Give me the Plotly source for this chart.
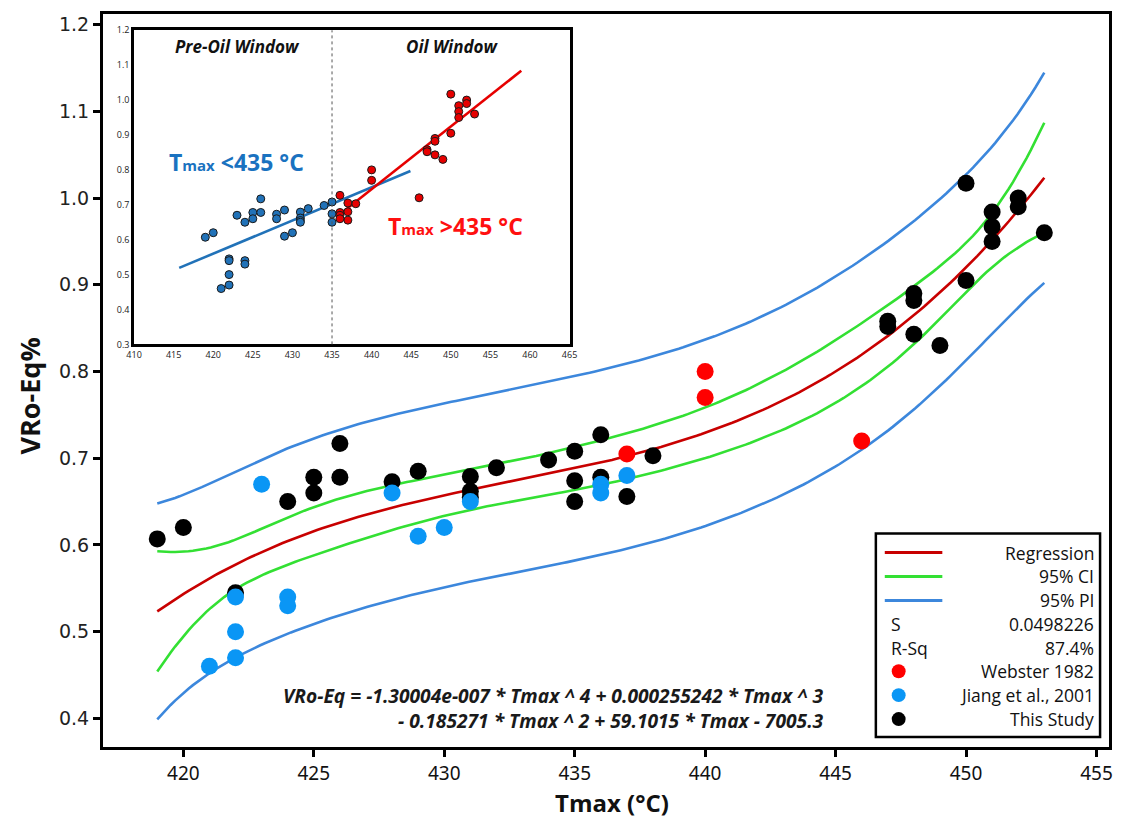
import numpy as np
import plotly.graph_objects as go

# ---------------- data ----------------
# This Study
study_tmax = [419, 420, 422, 424, 425, 425, 426, 426, 428, 429, 431, 431, 431, 432,
              434, 435, 435, 435, 436, 436, 437, 438, 447, 447, 448, 448, 448, 449,
              450, 450, 451, 451, 451, 452, 452, 453]
study_vro = [0.607, 0.620, 0.545, 0.650, 0.678, 0.660, 0.717, 0.678, 0.673, 0.685, 0.679, 0.662, 0.655, 0.689,
             0.698, 0.708, 0.674, 0.650, 0.727, 0.678, 0.656, 0.703, 0.858, 0.852, 0.890, 0.882, 0.843, 0.830,
             1.017, 0.905, 0.984, 0.967, 0.950, 1.000, 0.990, 0.960]

# Jiang et al., 2001
jiang_tmax = [421, 422, 422, 422, 423, 424, 424, 428, 429, 430, 431, 436, 436, 437]
jiang_vro = [0.460, 0.540, 0.500, 0.470, 0.670, 0.540, 0.530, 0.660, 0.610, 0.620, 0.650, 0.670, 0.660, 0.680]

# Webster 1982
webster_tmax = [437, 440, 440, 446]
webster_vro = [0.705, 0.800, 0.770, 0.720]

main_xticks = [420, 425, 430, 435, 440, 445, 450, 455]
main_yticks = [0.4, 0.5, 0.6, 0.7, 0.8, 0.9, 1.0, 1.1, 1.2]
inset_xticks = list(range(410, 466, 5))
inset_yticks = [0.3, 0.4, 0.5, 0.6, 0.7, 0.8, 0.9, 1.0, 1.1, 1.2]

stat_s = "0.0498226"
stat_rsq = "87.4%"
oil_window_tmax = 435

# ---------------- 4th-order regression with 95% CI / PI ----------------
tx = np.array(study_tmax + jiang_tmax + webster_tmax, dtype=float)
vy = np.array(study_vro + jiang_vro + webster_vro, dtype=float)
centre = 435.0
X = np.vander(tx - centre, 5)
beta, *_ = np.linalg.lstsq(X, vy, rcond=None)
n, p = X.shape
resid = vy - X @ beta
s_fit = np.sqrt(resid @ resid / (n - p))
xtx_inv = np.linalg.inv(X.T @ X)
t_crit = 2.0096  # Student t, 0.975 quantile, 49 d.f.

grid = np.linspace(tx.min(), tx.max(), 200)
G = np.vander(grid - centre, 5)
fit = G @ beta
se_mean = s_fit * np.sqrt(np.einsum("ij,jk,ik->i", G, xtx_inv, G))
ci = t_crit * se_mean
pi = t_crit * np.sqrt(s_fit ** 2 + se_mean ** 2)

# inset: split at the oil window threshold, linear trend for each part
pre_mask = tx <= oil_window_tmax
pre_coef = np.polyfit(tx[pre_mask], vy[pre_mask], 1)
oil_coef = np.polyfit(tx[~pre_mask], vy[~pre_mask], 1)
pre_line_x = np.array([415.7, 444.9])
oil_line_x = np.array([436.0, 458.9])

# ---------------- layout geometry (pixels -> paper) ----------------
W, H = 1124, 819
L, R, T, B = 103, 1117, 12, 747


def px(x):
    return (x - L) / (R - L)


def py(y):
    return (B - y) / (B - T)


def label(text, x, y, size, color="#111", xanchor="center", family="Open Sans", **kw):
    return dict(text=text, x=px(x), y=py(y), xref="paper", yref="paper", xanchor=xanchor,
                yanchor="middle", showarrow=False, borderpad=0,
                font=dict(family=family, size=size, color=color), **kw)


FONT = "Open Sans"
RED_LINE = "#c80000"
GREEN_LINE = "#33e033"
BLUE_LINE = "#3c87dc"
RED_PT = "#ff0000"
BLUE_PT = "#0a96f5"
INSET_BLUE = "#2172b8"
INSET_RED = "#e60000"

fig = go.Figure()

# confidence / prediction bands and the fitted curve
for yvals, color in [(fit + pi, BLUE_LINE), (fit - pi, BLUE_LINE),
                     (fit + ci, GREEN_LINE), (fit - ci, GREEN_LINE),
                     (fit, RED_LINE)]:
    fig.add_trace(go.Scatter(x=grid, y=yvals, mode="lines",
                             line=dict(color=color, width=2.6),
                             showlegend=False, hoverinfo="skip"))

# data points
fig.add_trace(go.Scatter(x=study_tmax, y=study_vro, mode="markers", name="This Study",
                         marker=dict(color="#000000", size=17), showlegend=False))
fig.add_trace(go.Scatter(x=jiang_tmax, y=jiang_vro, mode="markers", name="Jiang et al., 2001",
                         marker=dict(color=BLUE_PT, size=17), showlegend=False))
fig.add_trace(go.Scatter(x=webster_tmax, y=webster_vro, mode="markers", name="Webster 1982",
                         marker=dict(color=RED_PT, size=17), showlegend=False))

# inset traces
fig.add_trace(go.Scatter(x=pre_line_x, y=np.polyval(pre_coef, pre_line_x), mode="lines",
                         line=dict(color=INSET_BLUE, width=2.6), xaxis="x2", yaxis="y2",
                         showlegend=False, hoverinfo="skip"))
fig.add_trace(go.Scatter(x=oil_line_x, y=np.polyval(oil_coef, oil_line_x), mode="lines",
                         line=dict(color=INSET_RED, width=2.6), xaxis="x2", yaxis="y2",
                         showlegend=False, hoverinfo="skip"))
fig.add_trace(go.Scatter(x=tx[pre_mask], y=vy[pre_mask], mode="markers",
                         marker=dict(color=INSET_BLUE, size=8, line=dict(color="#1a1a1a", width=1)),
                         xaxis="x2", yaxis="y2", showlegend=False))
fig.add_trace(go.Scatter(x=tx[~pre_mask], y=vy[~pre_mask], mode="markers",
                         marker=dict(color=INSET_RED, size=8, line=dict(color="#1a1a1a", width=1)),
                         xaxis="x2", yaxis="y2", showlegend=False))

annotations = []
shapes = []

# axis titles
annotations.append(label("<b>Tmax (°C)</b>", 616, 803, 24))
annotations.append(label("<b>VRo-Eq%</b>", 29, 395, 27, textangle=-90))

# regression equation (two right-aligned lines)
annotations.append(label("<b><i>VRo-Eq = -1.30004e-007 * Tmax ^ 4 + 0.000255242 * Tmax ^ 3<br>"
                         "- 0.185271 * Tmax ^ 2 + 59.1015 * Tmax - 7005.3</i></b>",
                         831, 708, 19.2, color="#1a1a1a", xanchor="right", align="right"))

# legend box
shapes.append(dict(type="rect", xref="paper", yref="paper", x0=px(882), x1=px(1108),
                   y0=py(737), y1=py(533), line=dict(color="#000", width=2.5), fillcolor="white"))
leg_rows = [("Regression", 552, "line", RED_LINE), ("95% CI", 576, "line", GREEN_LINE),
            ("95% PI", 600, "line", BLUE_LINE), (stat_s, 624, "S", None),
            (stat_rsq, 648, "R-Sq", None), ("Webster 1982", 671, "dot", RED_PT),
            ("Jiang et al., 2001", 695, "dot", BLUE_PT), ("This Study", 719, "dot", "#000000")]
for text, yy, kind, color in leg_rows:
    annotations.append(label(text, 1103, yy, 17.5, xanchor="right"))
    if kind == "line":
        shapes.append(dict(type="line", xref="paper", yref="paper", x0=px(891), x1=px(949),
                           y0=py(yy), y1=py(yy), line=dict(color=color, width=3)))
    elif kind == "dot":
        shapes.append(dict(type="circle", xref="paper", yref="paper", x0=px(898), x1=px(912),
                           y0=py(yy + 7), y1=py(yy - 7), line=dict(width=0), fillcolor=color))
    else:
        annotations.append(label(kind, 896, yy, 17.5, xanchor="left"))

# inset decorations
shapes.append(dict(type="line", xref="x2", yref="y2 domain", x0=oil_window_tmax, x1=oil_window_tmax,
                   y0=0, y1=1, line=dict(color="#555", width=1, dash="dot")))
annotations.append(label("<b><i>Pre-Oil Window</i></b>", 239, 45, 17))
annotations.append(label("<b><i>Oil Window</i></b>", 455, 45, 17))
annotations.append(label("<b>T<span style='font-size:15px'>max</span> <435 °C</b>", 238, 160, 23,
                         color="#1a72c0"))
annotations.append(label("<b>T<span style='font-size:15px'>max</span> >435 °C</b>", 458, 225, 23,
                         color="#ff1010"))

fig.update_layout(
    width=W, height=H,
    margin=dict(l=L, r=W - R, t=T, b=H - B),
    paper_bgcolor="white", plot_bgcolor="white",
    showlegend=False,
    xaxis=dict(range=[416.92, 455.48], tickvals=main_xticks, showgrid=False, zeroline=False,
               showline=True, linecolor="#000", linewidth=3, mirror=True,
               ticks="outside", ticklen=7, tickwidth=3, tickcolor="#000",
               tickfont=dict(family="Noto Sans", size=19, color="#111")),
    yaxis=dict(range=[0.367, 1.2123], tickvals=main_yticks, tickformat=".1f", showgrid=False,
               zeroline=False, showline=True, linecolor="#000", linewidth=3, mirror=True,
               ticks="outside", ticklen=7, tickwidth=3, tickcolor="#000",
               tickfont=dict(family="DejaVu Sans", size=19, color="#222")),
    xaxis2=dict(domain=[px(134.3), px(573.3)], anchor="y2", range=[410, 465], tickvals=inset_xticks,
                showgrid=False, zeroline=False, showline=True, linecolor="#000", linewidth=2.5,
                mirror=True, ticks="", tickfont=dict(family=FONT, size=9, color="#222")),
    yaxis2=dict(domain=[py(343.3), py(28.3)], anchor="x2", range=[0.3, 1.2], tickvals=inset_yticks,
                tickformat=".1f", showgrid=False, zeroline=False, showline=True, linecolor="#000",
                linewidth=2.5, mirror=True, ticks="", tickfont=dict(family=FONT, size=9, color="#222")),
    annotations=annotations,
    shapes=shapes,
)

fig.write_html("out.html")
